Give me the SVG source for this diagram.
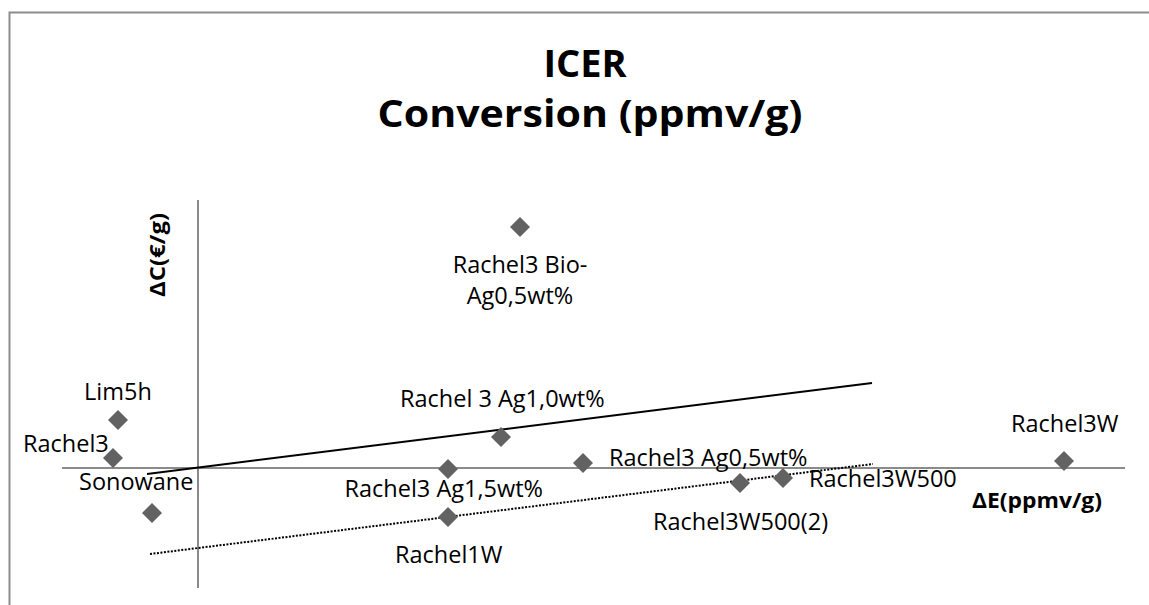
<svg xmlns="http://www.w3.org/2000/svg" width="1149" height="605" viewBox="0 0 1149 605">
<style>
.lbl{font-family:"Open Sans","Liberation Sans",sans-serif;font-size:23.5px;fill:#000}
.ttl{font-family:"Open Sans","Liberation Sans",sans-serif;font-weight:bold;font-size:38px;fill:#000;text-anchor:middle}
.ax{font-family:"Open Sans","Liberation Sans",sans-serif;font-weight:bold;font-size:21.5px;fill:#000}
.axis{stroke:#8a8a8a;stroke-width:2;fill:none}
.pt{fill:#626262}
</style>
<defs>
<path id="dia" d="M0,-10 L10,0 L0,10 L-10,0 Z"/>
</defs>
<rect x="0" y="0" width="1149" height="605" fill="#fff"/>
<path d="M9.5,615 V12.5 H1160" stroke="#8c8c8c" stroke-width="2" fill="none"/>
<g id="title">
<text class="ttl" x="585" y="77">ICER</text>
<text class="ttl" x="590" y="127" textLength="425" lengthAdjust="spacingAndGlyphs">Conversion (ppmv/g)</text>
</g>
<g id="axes">
<line class="axis" x1="62" y1="468" x2="1125" y2="468"/>
<line class="axis" x1="198" y1="200" x2="198" y2="588"/>
<text class="ax" x="972" y="508" textLength="130" lengthAdjust="spacingAndGlyphs">ΔE(ppmv/g)</text>
<text class="ax" transform="translate(165,255) rotate(-90)" text-anchor="middle" textLength="84" lengthAdjust="spacingAndGlyphs">ΔC(€/g)</text>
</g>
<g id="connectors">
<line x1="147" y1="474" x2="872" y2="383" stroke="#000" stroke-width="2"/>
<line x1="150" y1="554" x2="873" y2="464" stroke="#000" stroke-width="2" stroke-dasharray="2,1.5"/>
</g>
<g id="lim5h"><use href="#dia" class="pt" x="118" y="420"/><text class="lbl" x="84" y="400">Lim5h</text></g>
<g id="rachel3"><use href="#dia" class="pt" x="113" y="458"/><text class="lbl" x="23" y="452">Rachel3</text></g>
<g id="sonowane"><use href="#dia" class="pt" x="152" y="513"/><text class="lbl" x="79" y="490">Sonowane</text></g>
<g id="rachel3bio"><use href="#dia" class="pt" x="520" y="227"/><text class="lbl" x="520" y="273" text-anchor="middle">Rachel3 Bio-</text><text class="lbl" x="520" y="304" text-anchor="middle">Ag0,5wt%</text></g>
<g id="rachel3ag10"><use href="#dia" class="pt" x="501" y="437"/><text class="lbl" x="400" y="407">Rachel 3 Ag1,0wt%</text></g>
<g id="rachel3ag15"><use href="#dia" class="pt" x="448" y="469"/><text class="lbl" x="543" y="497" text-anchor="end">Rachel3 Ag1,5wt%</text></g>
<g id="rachel1w"><use href="#dia" class="pt" x="448" y="517"/><text class="lbl" x="395" y="563">Rachel1W</text></g>
<g id="rachel3ag05"><use href="#dia" class="pt" x="583" y="463"/><text class="lbl" x="609" y="466">Rachel3 Ag0,5wt%</text></g>
<g id="rachel3w500-2"><use href="#dia" class="pt" x="740" y="483"/><text class="lbl" x="653" y="530">Rachel3W500(2)</text></g>
<g id="rachel3w500"><use href="#dia" class="pt" x="783" y="478"/><text class="lbl" x="809" y="487">Rachel3W500</text></g>
<g id="rachel3w"><use href="#dia" class="pt" x="1064" y="461"/><text class="lbl" x="1011" y="432">Rachel3W</text></g>
</svg>
